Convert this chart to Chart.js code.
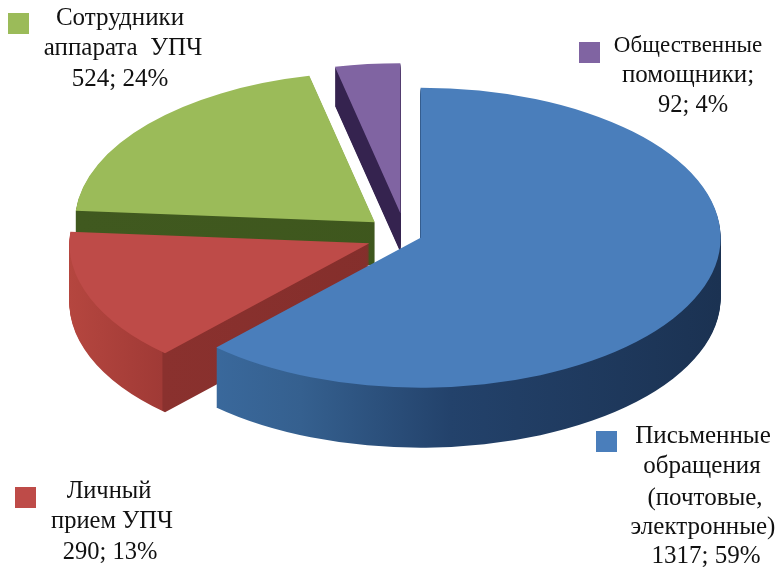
<!DOCTYPE html>
<html>
<head>
<meta charset="utf-8">
<title>Обращения</title>
<script src="https://cdn.jsdelivr.net/npm/chart.js@4/dist/chart.umd.min.js"></script>
<style>
html, body { margin: 0; padding: 0; background: #fff; }
canvas { display: block; }
</style>
</head>
<body>
<canvas id="pie3d" width="778" height="567"></canvas>
<script>
// slices run clockwise from 12 o'clock
var categories = ['Письменные обращения (почтовые, электронные)', 'Личный прием УПЧ', 'Сотрудники аппарата УПЧ', 'Общественные помощники'];
var values = [1317, 290, 524, 92];
var percents = [59, 13, 24, 4];
var labelLines = [
    ['Письменные', 'обращения', '(почтовые,', 'электронные)'],
    ['Личный', 'прием УПЧ'],
    ['Сотрудники', 'аппарата  УПЧ'],
    ['Общественные', 'помощники;']
];

var topColors = ['#4a7ebb', '#be4b48', '#9bbb59', '#8064a2'];
var wallStops = [
    [[0, '#3f72aa'], [0.3, '#35608f'], [0.55, '#23426b'], [1, '#1b3252']],
    [[0, '#b5463f'], [0.154, '#a03a36'], [0.156, '#8a312e'], [1, '#7c2b28']],
    [[0, '#40591f'], [1, '#3d551c']],
    [[0, '#35234f'], [1, '#35234f']]
];

// look of the tilted pie
var squash = 0.5;
var explode = [20, 35, 36, 42];
var nudge = [[0, 1], [0, 4], [0, 1], [3, 1]];
var depth = [60, 59, 43, 39];
var perspective = [0.237, 0.042];
var drawOrder = [3, 2, 1, 0];

// label blocks: swatch corner, then font size, centre and baseline of each line
var labelBoxes = [
    { sx: 596, sy: 431, size: [25, 25, 25, 25, 25], cx: [703, 702, 705, 703, 706], y: [443, 473, 505, 534, 563] },
    { sx: 15, sy: 487, size: [24.5, 24.5, 24.5], cx: [109, 112, 110], y: [498, 528, 559] },
    { sx: 8, sy: 13, size: [25, 25, 25], cx: [120, 123, 120], y: [25, 55, 86] },
    { sx: 579, sy: 42, size: [23, 25, 24.5], cx: [688, 688, 693], y: [52, 82, 112] }
];

// near side of the tilted pie looks wider, so push the angles that way
function warpAngle(a) {
    var t = a + Math.PI / 2;
    return t - perspective[0] * Math.sin(t) + perspective[1] * Math.sin(2 * t) - Math.PI / 2;
}

var pie3dPlugin = {
    id: 'pie3d',
    afterDatasetsUpdate: function (chart) {
        chart.getDatasetMeta(0).data.forEach(function (arc) {
            arc.startAngle = warpAngle(arc.startAngle);
            arc.endAngle = warpAngle(arc.endAngle);
            arc.circumference = arc.endAngle - arc.startAngle;
        });
    },
    beforeDatasetsDraw: function (chart) {
        var ctx = chart.ctx;
        var arcs = chart.getDatasetMeta(0).data;

        drawOrder.forEach(function (i) {
            var arc = arcs[i];
            var mid = (arc.startAngle + arc.endAngle) / 2;
            var tx = Math.cos(mid) * explode[i];
            var ty = Math.sin(mid) * explode[i];
            var topOptions = arc.options;

            var grad = ctx.createLinearGradient(arc.x - arc.outerRadius, 0, arc.x + arc.outerRadius, 0);
            wallStops[i].forEach(function (s) {
                grad.addColorStop(s[0], s[1]);
            });
            var wallOptions = Object.assign({}, topOptions, { backgroundColor: grad });

            for (var d = depth[i]; d >= 0; d--) {
                ctx.save();
                ctx.translate(arc.x + nudge[i][0], arc.y + nudge[i][1] + d);
                ctx.scale(1, squash);
                ctx.translate(-arc.x + tx, -arc.y + ty);
                arc.options = d === 0 ? topOptions : wallOptions;
                arc.draw(ctx);
                ctx.restore();
            }
            arc.options = topOptions;
        });
        return false;
    },
    afterDraw: function (chart) {
        var ctx = chart.ctx;
        ctx.save();
        ctx.textAlign = 'center';
        ctx.textBaseline = 'alphabetic';
        labelBoxes.forEach(function (box, i) {
            ctx.fillStyle = topColors[i];
            ctx.fillRect(box.sx, box.sy, 21, 21);
            ctx.fillStyle = '#111';
            var lines = labelLines[i].concat(values[i] + '; ' + percents[i] + '%');
            lines.forEach(function (line, n) {
                ctx.font = box.size[n] + 'px "Liberation Serif"';
                ctx.fillText(line, box.cx[n], box.y[n]);
            });
        });
        ctx.restore();
    }
};

new Chart(document.getElementById('pie3d'), {
    type: 'pie',
    data: {
        labels: categories,
        datasets: [{
            data: values,
            backgroundColor: topColors,
            borderWidth: 0
        }]
    },
    options: {
        responsive: false,
        animation: false,
        radius: 300,
        layout: { padding: { left: 26, bottom: 101 } },
        plugins: {
            legend: { display: false },
            tooltip: { enabled: false }
        }
    },
    plugins: [pie3dPlugin]
});
</script>
</body>
</html>
